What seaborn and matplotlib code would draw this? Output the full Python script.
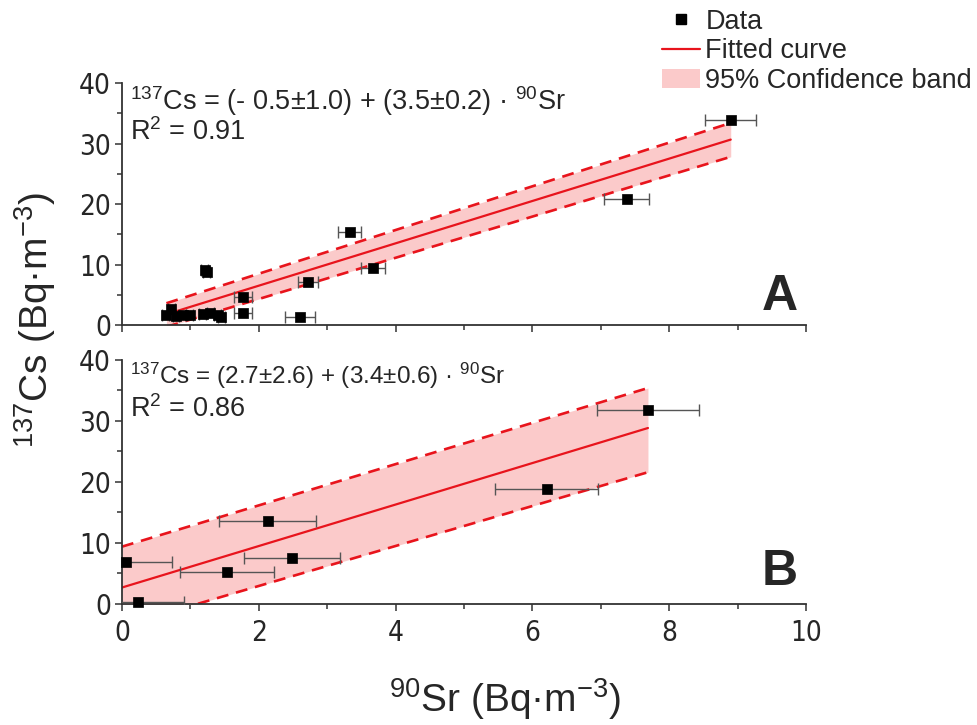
import numpy as np
import pandas as pd
import matplotlib
matplotlib.use("Agg")
import matplotlib.pyplot as plt
import seaborn as sns
from matplotlib.lines import Line2D
from matplotlib.patches import Patch
from matplotlib.ticker import MultipleLocator

# ---- Panel A: measured activities ----
a_sr = [8.90, 7.38, 3.33, 3.67, 2.72, 1.77, 1.77, 2.60, 1.21, 1.24,
        0.64, 0.72, 0.79, 0.89, 0.99, 1.18, 1.29, 1.40, 1.45]
a_cs = [33.9, 20.8, 15.4, 9.4, 7.1, 4.6, 2.0, 1.3, 9.1, 8.7,
        1.65, 2.6, 1.5, 1.65, 1.65, 1.8, 2.0, 1.65, 1.3]
a_sr_err = [0.37, 0.33, 0.17, 0.18, 0.15, 0.13, 0.13, 0.22, 0.05, 0.05,
            0.05, 0.05, 0.05, 0.05, 0.05, 0.05, 0.05, 0.05, 0.05]
a_intercept, a_slope = -0.5, 3.5
a_band_x = [0.65, 8.9]
a_band_lo = [-0.3, 27.8]
a_band_hi = [3.6, 33.4]
a_eq = r"$^{137}$Cs = (- 0.5±1.0) + (3.5±0.2) · $^{90}$Sr"
a_r2 = r"R$^{2}$ = 0.91"

# ---- Panel B ----
b_sr = [0.06, 0.23, 1.54, 2.13, 2.49, 6.21, 7.69]
b_cs = [6.9, 0.3, 5.2, 13.6, 7.5, 18.85, 31.8]
b_sr_err = [0.67, 0.68, 0.69, 0.71, 0.70, 0.75, 0.75]
b_intercept, b_slope = 2.7, 3.4
b_band_x = [0.0, 7.69]
b_band_lo = [-3.6, 21.6]
b_band_hi = [9.4, 35.4]
b_eq = r"$^{137}$Cs = (2.7±2.6) + (3.4±0.6) · $^{90}$Sr"
b_r2 = r"R$^{2}$ = 0.86"

RED = "#e8141c"
BAND = "#fbcaca"
AXIS = "#333333"

sns.set_theme(style="ticks")
plt.rcParams["font.family"] = ["Liberation Sans", "DejaVu Sans"]
plt.rcParams["mathtext.fontset"] = "custom"
plt.rcParams["mathtext.rm"] = "Liberation Sans"
plt.rcParams["mathtext.it"] = "Liberation Sans:italic"
plt.rcParams["mathtext.bf"] = "Liberation Sans:bold"

fig = plt.figure(figsize=(9.78, 7.25), dpi=100)
ax_a = fig.add_axes([0.1247, 0.5517, 0.6994, 0.3338])
ax_b = fig.add_axes([0.1247, 0.1669, 0.6994, 0.3366])


def draw_panel(ax, sr, cs, err, b0, b1, bx, lo, hi, eq, eq_size, r2, tag, tag_y,
               show_xlabels):
    bx = np.asarray(bx, dtype=float)
    ax.fill_between(bx, lo, hi, color=BAND, lw=0, zorder=1)
    ax.plot(bx, lo, color=RED, lw=1.9, ls=(0, (4.5, 3)), zorder=2)
    ax.plot(bx, hi, color=RED, lw=1.9, ls=(0, (4.5, 3)), zorder=2)
    sns.lineplot(x=bx, y=b0 + b1 * bx, ax=ax, color=RED, lw=1.6, zorder=2)
    ax.errorbar(sr, cs, xerr=err, fmt="none", ecolor="#555555",
                elinewidth=1.0, capsize=4, capthick=1.0, zorder=3)
    sns.scatterplot(x=sr, y=cs, ax=ax, marker="s", s=62, color="black",
                    edgecolor="black", linewidth=0.5, zorder=4, clip_on=False)

    ax.set_xlim(0, 10)
    ax.set_ylim(0, 40)
    ax.xaxis.set_major_locator(MultipleLocator(2))
    ax.xaxis.set_minor_locator(MultipleLocator(1))
    ax.yaxis.set_major_locator(MultipleLocator(10))
    ax.yaxis.set_minor_locator(MultipleLocator(5))
    ax.tick_params(which="major", length=5, width=1.1, color=AXIS)
    ax.tick_params(which="minor", length=3.5, width=1.1, color=AXIS)
    ax.tick_params(axis="x", which="major", pad=6, labelbottom=show_xlabels)
    ax.tick_params(axis="y", which="major", pad=3)
    for lab in ax.get_xticklabels() + ax.get_yticklabels():
        lab.set_family("DejaVu Sans")
        lab.set_stretch("condensed")
        lab.set_fontsize(20)
    sns.despine(ax=ax)
    for side in ("left", "bottom"):
        ax.spines[side].set_color(AXIS)
        ax.spines[side].set_linewidth(1.3)
    ax.set_xlabel("")
    ax.set_ylabel("")
    ax.patch.set_alpha(0)

    ax.text(0.012, 0.995, eq, transform=ax.transAxes, ha="left", va="top",
            fontsize=eq_size)
    ax.text(0.012, 0.855, r2, transform=ax.transAxes, ha="left", va="top", fontsize=19.5)
    ax.text(0.962, tag_y, tag, transform=ax.transAxes, ha="center", va="baseline",
            fontsize=36, fontweight="bold")


draw_panel(ax_a, a_sr, a_cs, a_sr_err, a_intercept, a_slope,
           a_band_x, a_band_lo, a_band_hi, a_eq, 19.5, a_r2, "A", 0.06, False)
draw_panel(ax_b, b_sr, b_cs, b_sr_err, b_intercept, b_slope,
           b_band_x, b_band_lo, b_band_hi, b_eq, 17.5, b_r2, "B", 0.078, True)

fig.text(0.036, 0.559, r"$^{137}$Cs (Bq·m$^{-3}$)", rotation=90,
         ha="center", va="center", fontsize=28)
fig.text(0.516, 0.036, r"$^{90}$Sr (Bq·m$^{-3}$)", ha="center", va="center", fontsize=28)

handles = [
    Line2D([], [], marker="s", ls="none", color="black", markersize=7),
    Line2D([], [], color=RED, lw=1.6),
    Patch(facecolor=BAND, edgecolor="none"),
]
labels = ["Data", "Fitted curve", "95% Confidence band"]
fig.legend(handles, labels, loc="upper left", bbox_to_anchor=(0.677, 0.988),
           frameon=False, fontsize=19.5, handlelength=1.4, handletextpad=0.2,
           labelspacing=0.13, borderpad=0.0, borderaxespad=0.0)

fig.savefig("out.png", dpi=100)
